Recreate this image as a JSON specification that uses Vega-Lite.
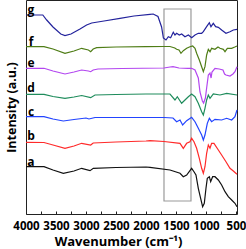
{
  "$schema": "https://vega.github.io/schema/vega-lite/v6.json",
  "width": 211,
  "height": 214,
  "autosize": {"type": "none"},
  "padding": {"left": 26, "top": 0, "right": 9, "bottom": 35},
  "config": {
    "font": "Open Sans",
    "view": {"stroke": "#222", "strokeWidth": 1},
    "axis": {"grid": false},
    "axisX": {"labelOverlap": false, "labelSeparation": 0, "labelBound": false}
  },
  "datasets": {
    "spectra": [
      {"s":"g","w":4000,"v":199},{"s":"g","w":3720,"v":199},{"s":"g","w":3655,"v":194},{"s":"g","w":3550,"v":187},{"s":"g","w":3420,"v":180},{"s":"g","w":3350,"v":178.5},{"s":"g","w":3250,"v":180},{"s":"g","w":3100,"v":185},{"s":"g","w":2990,"v":189},{"s":"g","w":2905,"v":191},{"s":"g","w":2700,"v":193},{"s":"g","w":2433,"v":195.7},{"s":"g","w":2200,"v":198},{"s":"g","w":1933,"v":199.7},{"s":"g","w":1880,"v":200},{"s":"g","w":1800,"v":197.5},{"s":"g","w":1740,"v":187},{"s":"g","w":1710,"v":176},{"s":"g","w":1667,"v":174},{"s":"g","w":1628,"v":177.3},{"s":"g","w":1589,"v":176.3},{"s":"g","w":1545,"v":181.7},{"s":"g","w":1517,"v":179},{"s":"g","w":1489,"v":180.7},{"s":"g","w":1445,"v":179},{"s":"g","w":1405,"v":180},{"s":"g","w":1350,"v":177.3},{"s":"g","w":1294,"v":179},{"s":"g","w":1238,"v":176.3},{"s":"g","w":1183,"v":179},{"s":"g","w":1128,"v":180.7},{"s":"g","w":1072,"v":180.7},{"s":"g","w":1044,"v":182.3},{"s":"g","w":989,"v":187.3},{"s":"g","w":944,"v":191.3},{"s":"g","w":917,"v":187.3},{"s":"g","w":878,"v":190.7},{"s":"g","w":839,"v":187.3},{"s":"g","w":794,"v":186.7},{"s":"g","w":739,"v":184},{"s":"g","w":667,"v":180.7},{"s":"g","w":600,"v":182.3},{"s":"g","w":544,"v":184},{"s":"g","w":483,"v":184.7},

      {"s":"f","w":4000,"v":167.3},{"s":"f","w":3700,"v":167.3},{"s":"f","w":3550,"v":165},{"s":"f","w":3350,"v":160.7},{"s":"f","w":3200,"v":163},{"s":"f","w":3072,"v":165.7},{"s":"f","w":2960,"v":164},{"s":"f","w":2922,"v":162.3},{"s":"f","w":2880,"v":165},{"s":"f","w":2822,"v":166.3},{"s":"f","w":2500,"v":167},{"s":"f","w":2000,"v":167.3},{"s":"f","w":1700,"v":167.5},{"s":"f","w":1600,"v":167.5},{"s":"f","w":1520,"v":166},{"s":"f","w":1489,"v":164.7},{"s":"f","w":1450,"v":164},{"s":"f","w":1417,"v":160.7},{"s":"f","w":1378,"v":163.3},{"s":"f","w":1322,"v":165.7},{"s":"f","w":1267,"v":167.3},{"s":"f","w":1222,"v":168},{"s":"f","w":1183,"v":165.7},{"s":"f","w":1156,"v":160.7},{"s":"f","w":1111,"v":154},{"s":"f","w":1072,"v":147.3},{"s":"f","w":1044,"v":142.3},{"s":"f","w":1017,"v":147.3},{"s":"f","w":989,"v":159},{"s":"f","w":961,"v":164.7},{"s":"f","w":933,"v":162.3},{"s":"f","w":906,"v":165.7},{"s":"f","w":850,"v":164.7},{"s":"f","w":800,"v":167},{"s":"f","w":767,"v":165.7},{"s":"f","w":711,"v":164.7},{"s":"f","w":683,"v":162.3},{"s":"f","w":644,"v":165.7},{"s":"f","w":572,"v":165.7},{"s":"f","w":520,"v":167},{"s":"f","w":483,"v":168},

      {"s":"e","w":4000,"v":145.7},{"s":"e","w":3700,"v":145.7},{"s":"e","w":3550,"v":143},{"s":"e","w":3350,"v":140},{"s":"e","w":3200,"v":142},{"s":"e","w":3072,"v":144},{"s":"e","w":2960,"v":143},{"s":"e","w":2922,"v":142.3},{"s":"e","w":2880,"v":144},{"s":"e","w":2800,"v":145},{"s":"e","w":2400,"v":145.5},{"s":"e","w":1700,"v":146},{"s":"e","w":1600,"v":147},{"s":"e","w":1550,"v":147.3},{"s":"e","w":1450,"v":146},{"s":"e","w":1300,"v":145.7},{"s":"e","w":1239,"v":145.7},{"s":"e","w":1183,"v":144},{"s":"e","w":1128,"v":136},{"s":"e","w":1100,"v":122},{"s":"e","w":1060,"v":113},{"s":"e","w":1040,"v":111},{"s":"e","w":1010,"v":116},{"s":"e","w":989,"v":126},{"s":"e","w":961,"v":139},{"s":"e","w":933,"v":141},{"s":"e","w":915,"v":136},{"s":"e","w":900,"v":142},{"s":"e","w":850,"v":145.7},{"s":"e","w":780,"v":145},{"s":"e","w":717,"v":144},{"s":"e","w":690,"v":140},{"s":"e","w":667,"v":139},{"s":"e","w":600,"v":138},{"s":"e","w":550,"v":140},{"s":"e","w":517,"v":142.3},{"s":"e","w":483,"v":147.3},

      {"s":"d","w":4000,"v":119.7},{"s":"d","w":3700,"v":119.7},{"s":"d","w":3550,"v":117.5},{"s":"d","w":3350,"v":115.7},{"s":"d","w":3200,"v":117},{"s":"d","w":3072,"v":118.5},{"s":"d","w":2922,"v":116.3},{"s":"d","w":2850,"v":119},{"s":"d","w":2500,"v":119.5},{"s":"d","w":2000,"v":120},{"s":"d","w":1700,"v":120},{"s":"d","w":1600,"v":120},{"s":"d","w":1517,"v":114},{"s":"d","w":1478,"v":117.3},{"s":"d","w":1406,"v":110.7},{"s":"d","w":1350,"v":114},{"s":"d","w":1294,"v":117.3},{"s":"d","w":1239,"v":120},{"s":"d","w":1183,"v":117.3},{"s":"d","w":1128,"v":110.7},{"s":"d","w":1072,"v":102.3},{"s":"d","w":1044,"v":99},{"s":"d","w":1017,"v":105.7},{"s":"d","w":989,"v":114},{"s":"d","w":961,"v":119},{"s":"d","w":933,"v":115.7},{"s":"d","w":878,"v":120},{"s":"d","w":767,"v":119},{"s":"d","w":655,"v":120.7},{"s":"d","w":483,"v":119},

      {"s":"c","w":4000,"v":97.3},{"s":"c","w":3700,"v":97.3},{"s":"c","w":3550,"v":95},{"s":"c","w":3378,"v":93},{"s":"c","w":3200,"v":94.5},{"s":"c","w":3000,"v":96},{"s":"c","w":2950,"v":95},{"s":"c","w":2850,"v":96.5},{"s":"c","w":2500,"v":96.5},{"s":"c","w":2000,"v":96.5},{"s":"c","w":1700,"v":96.5},{"s":"c","w":1550,"v":96},{"s":"c","w":1489,"v":92.3},{"s":"c","w":1433,"v":94},{"s":"c","w":1389,"v":89},{"s":"c","w":1322,"v":93.3},{"s":"c","w":1239,"v":96.7},{"s":"c","w":1183,"v":92.3},{"s":"c","w":1128,"v":85.7},{"s":"c","w":1072,"v":79},{"s":"c","w":1044,"v":74},{"s":"c","w":1017,"v":79},{"s":"c","w":978,"v":90.7},{"s":"c","w":944,"v":95.7},{"s":"c","w":906,"v":92.3},{"s":"c","w":850,"v":94.7},{"s":"c","w":739,"v":94},{"s":"c","w":655,"v":95.7},{"s":"c","w":572,"v":94},{"s":"c","w":517,"v":97.3},{"s":"c","w":483,"v":104},

      {"s":"b","w":4000,"v":71.7},{"s":"b","w":3700,"v":71.5},{"s":"b","w":3550,"v":69},{"s":"b","w":3350,"v":65.7},{"s":"b","w":3200,"v":68},{"s":"b","w":3072,"v":70.7},{"s":"b","w":2922,"v":69},{"s":"b","w":2880,"v":71},{"s":"b","w":2500,"v":72},{"s":"b","w":2000,"v":73},{"s":"b","w":1933,"v":73.3},{"s":"b","w":1700,"v":72.5},{"s":"b","w":1433,"v":70.7},{"s":"b","w":1378,"v":65.7},{"s":"b","w":1322,"v":70.7},{"s":"b","w":1267,"v":72.3},{"s":"b","w":1239,"v":75.7},{"s":"b","w":1200,"v":72.3},{"s":"b","w":1156,"v":65.7},{"s":"b","w":1111,"v":55.7},{"s":"b","w":1072,"v":45.7},{"s":"b","w":1044,"v":40.7},{"s":"b","w":1017,"v":47.3},{"s":"b","w":989,"v":60.7},{"s":"b","w":961,"v":69},{"s":"b","w":933,"v":65.7},{"s":"b","w":906,"v":70.7},{"s":"b","w":867,"v":70.7},{"s":"b","w":794,"v":64},{"s":"b","w":739,"v":59},{"s":"b","w":667,"v":52.3},{"s":"b","w":600,"v":45.7},{"s":"b","w":544,"v":43},{"s":"b","w":483,"v":39.7},

      {"s":"a","w":4000,"v":47.3},{"s":"a","w":3700,"v":47.3},{"s":"a","w":3550,"v":44},{"s":"a","w":3378,"v":40.7},{"s":"a","w":3200,"v":43},{"s":"a","w":3072,"v":45.7},{"s":"a","w":2933,"v":43.3},{"s":"a","w":2878,"v":45.7},{"s":"a","w":2500,"v":46.5},{"s":"a","w":2000,"v":47},{"s":"a","w":1933,"v":46.7},{"s":"a","w":1600,"v":44},{"s":"a","w":1433,"v":40.7},{"s":"a","w":1378,"v":37.3},{"s":"a","w":1322,"v":39},{"s":"a","w":1239,"v":45.7},{"s":"a","w":1200,"v":42.3},{"s":"a","w":1167,"v":39},{"s":"a","w":1128,"v":25.7},{"s":"a","w":1089,"v":15.7},{"s":"a","w":1056,"v":7.3},{"s":"a","w":1028,"v":10.7},{"s":"a","w":1000,"v":25.7},{"s":"a","w":978,"v":35.7},{"s":"a","w":944,"v":37.3},{"s":"a","w":922,"v":32.3},{"s":"a","w":889,"v":37.3},{"s":"a","w":850,"v":37.3},{"s":"a","w":794,"v":34},{"s":"a","w":739,"v":29},{"s":"a","w":683,"v":22.3},{"s":"a","w":628,"v":17.3},{"s":"a","w":572,"v":14},{"s":"a","w":517,"v":10.7},{"s":"a","w":483,"v":7.3}
    ],
    "box": [{"w1": 1700, "w2": 1250, "v1": 205, "v2": 13}],
    "labels": [
      {"s":"g","w":3917,"v":204},{"s":"f","w":3917,"v":172},{"s":"e","w":3917,"v":151},{"s":"d","w":3917,"v":126},{"s":"c","w":3917,"v":102},{"s":"b","w":3917,"v":78},{"s":"a","w":3917,"v":52}
    ]
  },
  "layer": [
    {
      "data": {"name": "box"},
      "mark": {"type": "rect", "fill": null, "fillOpacity": 0, "stroke": "#9a9a9a", "strokeWidth": 1.2},
      "encoding": {
        "x": {"field": "w1", "type": "quantitative", "scale": {"domain": [4000, 483], "nice": false, "zero": false},
          "axis": {
            "title": "Wavenumber (cm⁻¹)",
            "values": [4000,3750,3500,3250,3000,2750,2500,2250,2000,1750,1500,1250,1000,750,500],
            "tickCount": 40,
            "labelExpr": "datum.value % 500 == 0 ? format(datum.value, 'd') : ''",
            "labelFont": "Open Sans", "labelFontWeight": "bold", "labelFontSize": 11.5, "labelColor": "#000",
            "labelOverlap": false, "labelFlush": false, "labelSeparation": 0,
            "tickSize": -3, "tickColor": "#222", "tickWidth": 1, "labelPadding": 9,
            "domain": false,
            "titleFont": "Open Sans", "titleFontWeight": "bold", "titleFontSize": 13, "titleColor": "#000",
            "titleX": 92, "titlePadding": 4
          }},
        "x2": {"field": "w2"},
        "y": {"field": "v1", "type": "quantitative", "scale": {"domain": [0, 214], "nice": false, "zero": false},
          "axis": {"title": "Intensity (a.u.)", "labels": false, "ticks": false, "domain": false,
            "titleFont": "Open Sans", "titleFontWeight": "bold", "titleFontSize": 12.5, "titleColor": "#000", "titlePadding": 8}},
        "y2": {"field": "v2"}
      }
    },
    {
      "data": {"name": "spectra"},
      "mark": {"type": "line", "strokeWidth": 1.2, "interpolate": "linear"},
      "encoding": {
        "x": {"field": "w", "type": "quantitative"},
        "y": {"field": "v", "type": "quantitative"},
        "detail": {"field": "s"},
        "color": {"field": "s", "type": "nominal",
          "scale": {"domain": ["a","b","c","d","e","f","g"], "range": ["#111111","#ff2a2a","#2244ff","#1f8c5c","#b347f0","#4f7d16","#23239c"]},
          "legend": null}
      }
    },
    {
      "data": {"name": "labels"},
      "mark": {"type": "text", "font": "Open Sans", "fontWeight": "bold", "fontSize": 12, "color": "#000", "baseline": "middle", "align": "center"},
      "encoding": {
        "x": {"field": "w", "type": "quantitative"},
        "y": {"field": "v", "type": "quantitative"},
        "text": {"field": "s"}
      }
    }
  ]
}
